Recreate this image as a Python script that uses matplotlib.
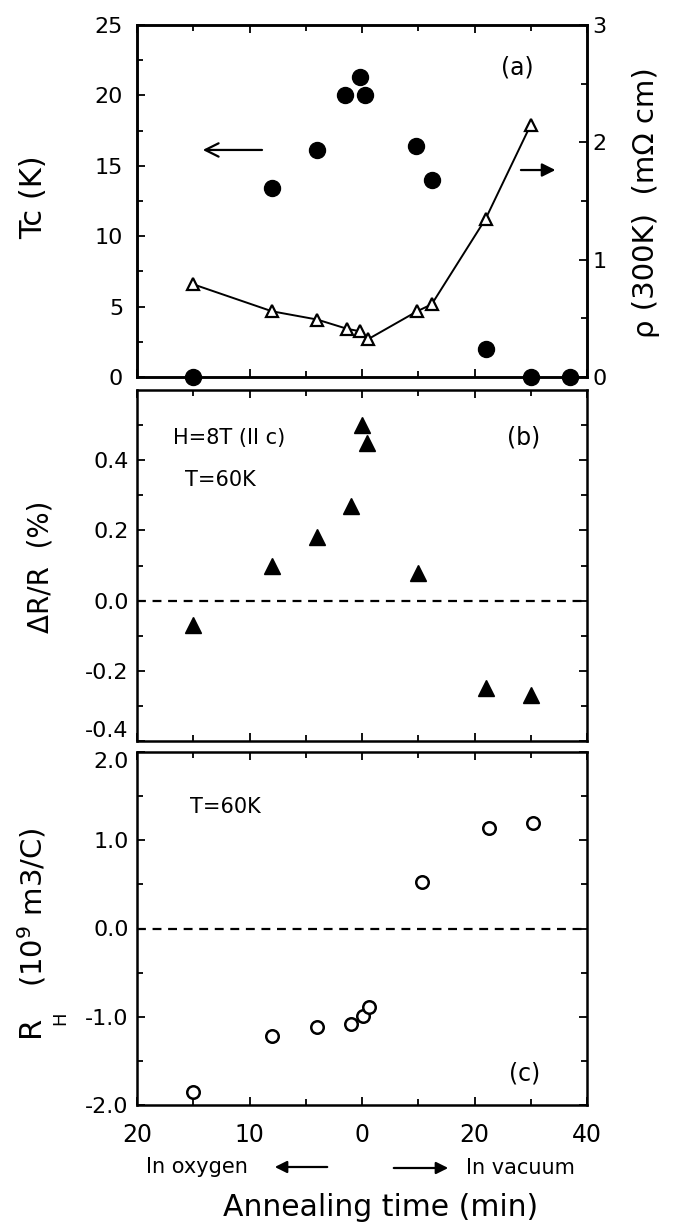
import numpy as np
import matplotlib.pyplot as plt
from matplotlib.patches import FancyArrowPatch
from matplotlib.ticker import FixedLocator, FixedFormatter, NullFormatter

plt.rcParams['font.family'] = ['DejaVu Sans']
plt.rcParams['axes.unicode_minus'] = False

# signed annealing time (min): negative = in oxygen, positive = in vacuum
tc_time = [-15, -8, -4, -1.5, -0.2, 0.6, 9.6, 12.4, 22, 30, 37]
tc_val = [0, 13.4, 16.1, 20.0, 21.3, 20.0, 16.4, 14.0, 2.0, 0, 0]

rho_time = [-15, -8, -4, -1.3, -0.2, 1.0, 9.8, 12.4, 22, 30]
rho_val = [0.79, 0.56, 0.49, 0.41, 0.39, 0.32, 0.56, 0.62, 1.35, 2.15]

dr_time = [-15, -8, -4, -1, 0, 0.8, 10, 22, 30]
dr_val = [-0.07, 0.10, 0.18, 0.27, 0.50, 0.45, 0.08, -0.25, -0.27]

rh_time = [-15, -8, -4, -1, 0.1, 1.2, 10.6, 22.6, 30.4]
rh_val = [-1.85, -1.22, -1.12, -1.08, -0.99, -0.89, 0.53, 1.14, 1.19]

x_major = [-20, -10, 0, 20, 40]
x_labels = ['20', '10', '0', '20', '40']
x_minor = [-15, -5, 10, 30]


# oxygen side runs 1:1, vacuum side is compressed by 2
def fwd(t):
    t = np.asarray(t, dtype=float)
    return np.where(t < 0, t, t / 2)


def inv(u):
    u = np.asarray(u, dtype=float)
    return np.where(u < 0, u, u * 2)


W_PX, H_PX = 679, 1229
fig = plt.figure(figsize=(W_PX / 100, H_PX / 100), dpi=100)


def px_axes(top, bottom, left=137, right=587):
    return fig.add_axes([left / W_PX, 1 - bottom / H_PX,
                         (right - left) / W_PX, (bottom - top) / H_PX])


def ftext(x, y, s, **kw):
    fig.text(x / W_PX, 1 - y / H_PX, s, **kw)


def fig_arrow(x0, x1, y, style):
    fig.patches.append(FancyArrowPatch(
        (x0 / W_PX, 1 - y / H_PX), (x1 / W_PX, 1 - y / H_PX),
        transform=fig.transFigure, arrowstyle=style, mutation_scale=18,
        lw=1.6, color='k'))


ax1 = px_axes(25, 377)
ax2 = px_axes(390, 741)
ax3 = px_axes(752, 1105)

for ax in (ax1, ax2, ax3):
    ax.set_xscale('function', functions=(fwd, inv))
    ax.set_xlim(-20, 40)
    ax.xaxis.set_major_locator(FixedLocator(x_major))
    ax.xaxis.set_minor_locator(FixedLocator(x_minor))
    ax.xaxis.set_major_formatter(NullFormatter())
    ax.tick_params(which='both', direction='in', top=True, width=1.3)
    ax.tick_params(which='major', length=6)
    ax.tick_params(which='minor', length=4)
    for s in ax.spines.values():
        s.set_linewidth(1.8)

# (a) Tc and room temperature resistivity
ax1.set_ylim(0, 25)
ax1.yaxis.set_major_locator(FixedLocator([0, 5, 10, 15, 20, 25]))
ax1.yaxis.set_minor_locator(FixedLocator([2.5, 7.5, 12.5, 17.5, 22.5]))
ax1.tick_params(axis='y', which='both', right=False, labelsize=16, pad=10)
ax1.plot(tc_time, tc_val, 'o', color='k', ms=11.5, clip_on=False, zorder=5)

axr = ax1.twinx()
axr.set_ylim(0, 3)
axr.yaxis.set_major_locator(FixedLocator([0, 1, 2, 3]))
axr.yaxis.set_minor_locator(FixedLocator([0.5, 1.5, 2.5]))
axr.tick_params(which='both', direction='in', width=1.3, labelsize=16, pad=4)
axr.tick_params(which='major', length=6)
axr.tick_params(which='minor', length=4)
for s in axr.spines.values():
    s.set_linewidth(1.8)
axr.plot(rho_time, rho_val, '-^', color='k', lw=1.4, ms=9,
         mfc='white', mec='k', mew=1.6)

ax1.text((517 - 137) / 450, (377 - 67) / 352, '(a)', transform=ax1.transAxes,
         ha='center', va='center', fontsize=17)
ax1.annotate('', xy=(0.14, 0.645), xytext=(0.284, 0.645),
             xycoords='axes fraction',
             arrowprops=dict(arrowstyle='->', lw=1.6, color='k',
                             mutation_scale=24))
ax1.annotate('', xy=(0.936, 0.588), xytext=(0.847, 0.588),
             xycoords='axes fraction',
             arrowprops=dict(arrowstyle='-|>', lw=1.6, color='k',
                             mutation_scale=20))

# (b) magnetoresistance
ax2.set_ylim(-0.4, 0.6)
ax2.yaxis.set_major_locator(FixedLocator([-0.4, -0.2, 0.0, 0.2, 0.4]))
ax2.yaxis.set_major_formatter(FixedFormatter(['-0.4', '-0.2', '0.0', '0.2', '0.4']))
ax2.yaxis.set_minor_locator(FixedLocator([-0.3, -0.1, 0.1, 0.3, 0.5]))
ax2.tick_params(axis='y', which='both', right=True, labelsize=16, pad=6)
ax2.axhline(0, color='k', lw=1.6, ls=(0, (4, 3)))
ax2.plot(dr_time, dr_val, '^', color='k', ms=11)
ax2.text((173 - 137) / 450, (741 - 438) / 351, 'H=8T (II c)',
         transform=ax2.transAxes, ha='left', va='center', fontsize=15)
ax2.text((185 - 137) / 450, (741 - 480) / 351, 'T=60K',
         transform=ax2.transAxes, ha='left', va='center', fontsize=15)
ax2.text((524 - 137) / 450, (741 - 437) / 351, '(b)',
         transform=ax2.transAxes, ha='center', va='center', fontsize=17)

# (c) Hall coefficient
ax3.set_ylim(-2, 2)
ax3.yaxis.set_major_locator(FixedLocator([-2, -1, 0, 1, 2]))
ax3.yaxis.set_major_formatter(FixedFormatter(['-2.0', '-1.0', '0.0', '1.0', '2.0']))
ax3.yaxis.set_minor_locator(FixedLocator([-1.5, -0.5, 0.5, 1.5]))
ax3.tick_params(axis='y', which='both', right=True, labelsize=16, pad=6)
ax3.xaxis.set_major_formatter(FixedFormatter(x_labels))
ax3.tick_params(axis='x', labelsize=17, pad=13)
ax3.axhline(0, color='k', lw=1.6, ls=(0, (4, 3)))
ax3.plot(rh_time, rh_val, 'o', ms=9, mfc='white', mec='k', mew=1.8)
ax3.text((190 - 137) / 450, (1105 - 807) / 353, 'T=60K',
         transform=ax3.transAxes, ha='left', va='center', fontsize=15)
ax3.text((525 - 137) / 450, (1105 - 1073) / 353, '(c)',
         transform=ax3.transAxes, ha='center', va='center', fontsize=17)

# the -0.4 and 2.0 labels sit on the shared edge of (b) and (c)
fig.canvas.draw()
ax2.get_yticklabels()[0].set_va('bottom')
ax3.get_yticklabels()[-1].set_va('top')

# axis titles
ftext(34, 197, 'Tc (K)', rotation=90, ha='center', va='center', fontsize=22)
ftext(646, 203, 'ρ (300K)  (mΩ cm)', rotation=90, ha='center', va='center',
      fontsize=21)
ftext(40, 567, 'ΔR/R  (%)', rotation=90, ha='center', va='center', fontsize=20)
ftext(30, 1026, 'R', rotation=90, ha='center', va='center', fontsize=22)
ftext(60, 1018, 'H', rotation=90, ha='center', va='center', fontsize=13)
ftext(32, 907, '(10$^{9}$ m3/C)', rotation=90, ha='center', va='center',
      fontsize=21)

# annealing direction
ftext(197, 1167, 'In oxygen', ha='center', va='center', fontsize=15)
ftext(520, 1168, 'In vacuum', ha='center', va='center', fontsize=15)
fig_arrow(330, 272, 1167, '-|>')
fig_arrow(391, 451, 1168, '-|>')
ftext(381, 1207, 'Annealing time (min)', ha='center', va='center', fontsize=21.5)

fig.savefig('out.png', dpi=100)
